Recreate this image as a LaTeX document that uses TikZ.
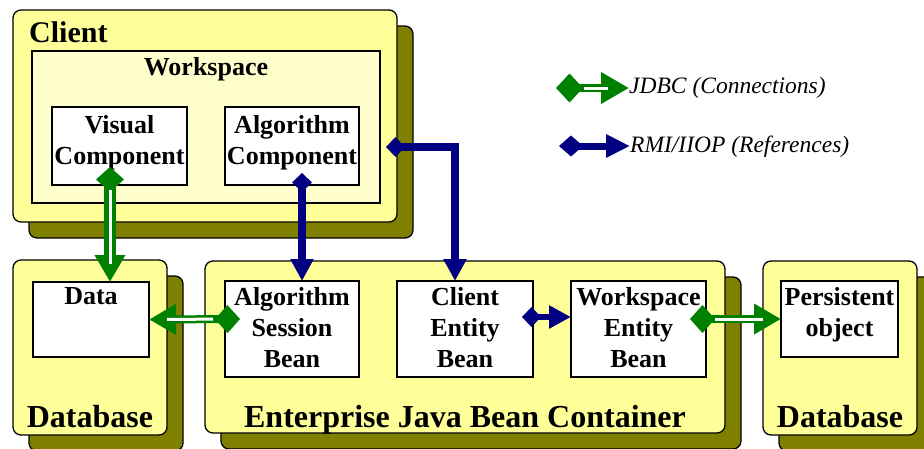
\documentclass[tikz,border=0pt]{standalone}
\usepackage{fontspec}
\setmainfont{Liberation Serif}
\usetikzlibrary{arrows.meta,shadows,calc}

\definecolor{ylw}{HTML}{FFFF99}
\definecolor{ltylw}{HTML}{FFFFCC}
\definecolor{olv}{HTML}{808000}
\definecolor{jgreen}{HTML}{008000}
\definecolor{rnavy}{HTML}{000080}

% green double line: thick stroke with a thin white gap along its middle
\newcommand\jdbclink[4][12pt]{%
  \draw[jdbc, line width=#1] (#2) -- (#3);
  \draw[draw=white, line width=3pt, shorten <=#4, shorten >=18pt] (#2) -- (#3);
}

\tikzset{
  ybox/.style={draw=black, line width=1.3pt, fill=ylw, rounded corners=8pt,
    inner sep=0pt, outer sep=0pt, anchor=north west,
    general shadow={shadow xshift=16pt, shadow yshift=-16pt, fill=olv,
      draw=black, line width=1.3pt, opacity=1}},
  wsbox/.style={draw=black, line width=1.3pt, fill=ltylw, inner sep=0pt,
    outer sep=0pt, anchor=north west},
  wbox/.style={draw=black, line width=1.3pt, fill=white, inner sep=0pt,
    outer sep=0pt, anchor=north west},
  lbl/.style={font=\fontsize{26}{31}\selectfont\bfseries, align=center,
    inner sep=0pt, anchor=north},
  biglbl/.style={font=\fontsize{32}{36}\selectfont\bfseries, inner sep=0pt,
    anchor=base},
  leglbl/.style={font=\fontsize{23.5}{28}\selectfont\itshape, inner sep=0pt,
    anchor=base west},
  jdbc/.style={draw=jgreen,
    {Diamond[length=25pt,width=28pt]}-{Triangle[length=27pt,width=29pt]}},
  rmi/.style={draw=rnavy, line width=7pt,
    {Diamond[length=19pt,width=20pt]}-{Triangle[length=22pt,width=22pt]}},
}

\begin{document}
\begin{tikzpicture}[x=1pt,y=-1pt]
\useasboundingbox (0,0) rectangle (924,448);

% client side
\node[ybox, minimum width=384pt, minimum height=212pt] (client) at (13,10) {};
\node[wsbox, minimum width=348pt, minimum height=152pt] (ws) at (32,51) {};
\node[wbox, minimum width=135pt, minimum height=78pt] (vc) at (52,107) {};
\node[wbox, minimum width=134pt, minimum height=78pt] (ac) at (225,107) {};
\node[font=\fontsize{30}{36}\selectfont\bfseries, inner sep=0pt,
  anchor=base west] (clientlbl) at (29,42) {Client};
\node[font=\fontsize{26}{31}\selectfont\bfseries, inner sep=0pt,
  anchor=base] (wslbl) at (206,75) {Workspace};
\node[lbl] (vclbl) at (119.5,115) {Visual\\Component};
\node[lbl] (aclbl) at (292,115) {Algorithm\\Component};

% left database
\node[ybox, minimum width=154pt, minimum height=175pt] (db1) at (13,260) {};
\node[wbox, minimum width=116pt, minimum height=75pt] (data) at (33,282) {};
\node[lbl] (datalbl) at (91,287) {Data};
\node[biglbl] (db1lbl) at (90,427) {Database};

% bean container
\node[ybox, minimum width=520pt, minimum height=172pt] (ejb) at (205,261) {};
\node[wbox, minimum width=134pt, minimum height=96pt] (asb) at (225,281) {};
\node[wbox, minimum width=136pt, minimum height=96pt] (ceb) at (397,281) {};
\node[wbox, minimum width=135pt, minimum height=96pt] (web) at (571,281) {};
\node[lbl] (asblbl) at (292,287) {Algorithm\\Session\\Bean};
\node[lbl] (ceblbl) at (465,287) {Client\\Entity\\Bean};
\node[lbl] (weblbl) at (638.5,287) {Workspace\\Entity\\Bean};
\node[biglbl] (ejblbl) at (465,427) {Enterprise Java Bean Container};

% right database
\node[ybox, minimum width=154pt, minimum height=174pt] (db2) at (763,261) {};
\node[wbox, minimum width=117pt, minimum height=76pt] (po) at (781,281) {};
\node[lbl] (polbl) at (839.5,287) {Persistent\\object};
\node[biglbl] (db2lbl) at (840,427) {Database};

% JDBC connections
\jdbclink{[xshift=-9.5pt,yshift=18pt]vc.south}{[xshift=19pt]data.north}{23pt}
\jdbclink[8pt]{[xshift=15pt,yshift=10pt]asb.west}{data.east}{27pt}
\jdbclink[8pt]{[xshift=-16pt,yshift=10pt]web.east}{po.west}{25pt}

% RMI/IIOP references
\draw[rmi, line width=8pt] ([xshift=10pt,yshift=12pt]ac.south) -- ([xshift=10pt]asb.north);
\draw[rmi, line width=8pt] ([xshift=-11pt,yshift=-31pt]client.east) -| ([xshift=-10pt]ceb.north);
\draw[rmi, line width=6pt] ([xshift=-11pt,yshift=12pt]ceb.east) -- ([yshift=12pt]web.west);

% legend
\node[leglbl] (jlbl) at (629,93) {JDBC (Connections)};
\node[leglbl] (rlbl) at (630,152) {RMI/IIOP (References)};
\coordinate (jstart) at (556,88);
\coordinate (rstart) at (559,146);
\draw[draw=jgreen, line width=8pt,
  {Diamond[length=27pt,width=29pt]}-{Triangle[length=28pt,width=30pt]}]
  (jstart) -- (jstart -| jlbl.west);
\draw[draw=white, line width=3pt, shorten <=28pt, shorten >=21pt]
  (jstart) -- (jstart -| jlbl.west);
\draw[rmi, {Diamond[length=24pt,width=21pt]}-{Triangle[length=24pt,width=22pt]}]
  (rstart) -- (rstart -| rlbl.west);
\end{tikzpicture}
\end{document}
